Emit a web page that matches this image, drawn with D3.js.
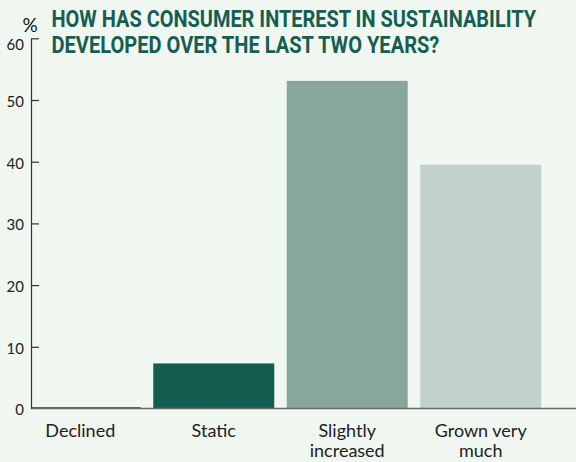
<!DOCTYPE html>
<html>
<head>
<meta charset="utf-8">
<script src="https://cdn.jsdelivr.net/npm/d3@7"></script>
<style>
  html, body { margin: 0; padding: 0; background: #f0f6f0; }
  svg { display: block; }
</style>
</head>
<body>
<script>
// Survey answers and their shares (%)
const categories = ["Declined", "Static", "Slightly increased", "Grown very much"];
const values = [0.2, 7.3, 53.1, 39.5];
const barColors = ["#22382f", "#125c50", "#87a79d", "#c1d1ce"];
const yTicks = [0, 10, 20, 30, 40, 50, 60];
const titleLines = [
  "HOW HAS CONSUMER INTEREST IN SUSTAINABILITY",
  "DEVELOPED OVER THE LAST TWO YEARS?"
];

const W = 576, H = 462;
const axisX = 31;

const svg = d3.select("body").append("svg")
  .attr("width", W).attr("height", H)
  .style("background", "#f0f6f0");

const y = d3.scaleLinear().domain([0, 60]).range([408.5, 38.3]);
const x = d3.scaleBand().domain(categories)
  .range([8, 553]).paddingInner(0.0936).paddingOuter(0.0885);

// bars, kept inside the plot area right of the value axis
svg.append("clipPath").attr("id", "plot")
  .append("rect").attr("x", axisX).attr("y", 0).attr("width", W - axisX).attr("height", H);

svg.append("g").attr("clip-path", "url(#plot)")
  .selectAll("rect").data(categories).join("rect")
  .attr("x", d => x(d))
  .attr("width", x.bandwidth())
  .attr("y", (d, i) => y(values[i]))
  .attr("height", (d, i) => y(0) - y(values[i]))
  .attr("fill", (d, i) => barColors[i]);

// baseline
svg.append("line")
  .attr("x1", axisX).attr("x2", W)
  .attr("y1", y(0)).attr("y2", y(0))
  .attr("stroke", "#666b66").attr("stroke-width", 1.5);

// value axis with inward ticks
const yAxis = d3.axisRight(y).tickValues(yTicks).tickSize(8).tickSizeOuter(0).tickFormat(d3.format("d"));
const gy = svg.append("g").attr("transform", `translate(${axisX},0)`).call(yAxis);
gy.select(".domain").attr("stroke", "#333").attr("stroke-width", 1.2);
gy.selectAll(".tick line").attr("stroke", "#333").attr("stroke-width", 1.2);
gy.selectAll(".tick text")
  .attr("x", -7).attr("dy", (d) => d === 60 ? "0.72em" : "0.42em")
  .attr("text-anchor", "end")
  .attr("fill", "#222")
  .style("font-family", "Lato, 'Noto Sans', sans-serif")
  .style("font-size", "15px");
gy.selectAll(".tick").filter(d => d === 0).select("line").remove();

// unit label
svg.append("text").attr("x", 30).attr("y", 31.5)
  .attr("text-anchor", "middle")
  .attr("fill", "#111")
  .style("font-family", "Lato, 'Noto Sans', sans-serif")
  .style("font-size", "19px")
  .text("%");

// category labels, wrapped onto two lines where needed
const wrapLines = {
  "Slightly increased": ["Slightly", "increased"],
  "Grown very much": ["Grown very", "much"]
};
svg.append("g").selectAll("text").data(categories).join("text")
  .attr("x", d => x(d) + x.bandwidth() / 2)
  .attr("y", 437.3)
  .attr("text-anchor", "middle")
  .attr("fill", "#222")
  .style("font-family", "Lato, 'Noto Sans', sans-serif")
  .style("font-size", "18px")
  .each(function (d) {
    const lines = wrapLines[d] || [d];
    d3.select(this).selectAll("tspan").data(lines).join("tspan")
      .attr("x", x(d) + x.bandwidth() / 2)
      .attr("dy", (l, j) => j === 0 ? 0 : 20)
      .text(l => l);
  });

// title: condensed look made by sizing the font to the line width
// and stretching it vertically back to the wanted cap height
const titleWidths = [485, 388];
const baseSize = 23;
svg.append("g").selectAll("text").data(titleLines).join("text")
  .attr("fill", "#155e51")
  .style("font-family", "Roboto, 'Liberation Sans', sans-serif")
  .style("font-weight", "700")
  .style("font-size", baseSize + "px")
  .text(d => d)
  .each(function (d, i) {
    const el = d3.select(this);
    const natural = this.getComputedTextLength();
    const fs = baseSize * titleWidths[i] / natural;
    const yBase = i === 0 ? 27.3 : 52.7;
    el.style("font-size", fs + "px")
      .attr("transform", `translate(51.5,${yBase}) scale(1,${baseSize / fs})`);
  });
</script>
</body>
</html>
